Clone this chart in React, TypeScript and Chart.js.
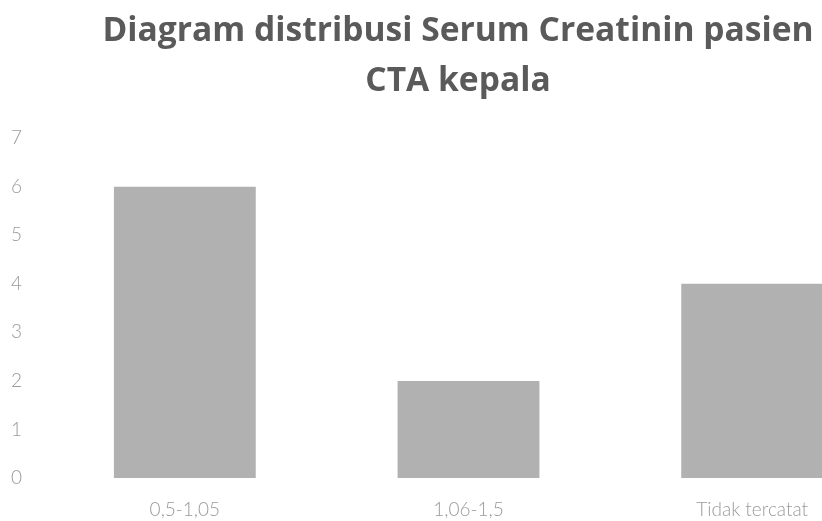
import React, { useEffect, useRef } from "react";
import { Chart, registerables } from "chart.js";

Chart.register(...registerables);

const titleLines = ["Diagram distribusi Serum Creatinin pasien", "CTA kepala"];
const categories = ["0,5-1,05", "1,06-1,5", "Tidak tercatat"];
const counts = [6, 2, 4];
const yMin = 0;
const yMax = 7;
const yStep = 1;

export default function App() {
  const ref = useRef<HTMLCanvasElement | null>(null);

  useEffect(() => {
    if (!ref.current) return;
    const chart = new Chart(ref.current, {
      type: "bar",
      data: {
        labels: categories,
        datasets: [
          {
            data: counts,
            backgroundColor: "#b1b1b1",
            borderWidth: 0,
            barPercentage: 0.5,
            categoryPercentage: 1,
          },
        ],
      },
      options: {
        responsive: false,
        animation: false,
        layout: { padding: { left: 22, right: 22, top: 0, bottom: 0 } },
        plugins: {
          legend: { display: false },
          tooltip: { enabled: false },
          title: {
            display: true,
            text: titleLines,
            color: "#5a5a5a",
            font: { family: "Open Sans", size: 33.6, weight: "bold", lineHeight: 1.49 },
            padding: { top: 6, bottom: 32 },
          },
        },
        scales: {
          x: {
            grid: { display: false, drawTicks: false },
            border: { display: false },
            ticks: {
              color: "#9a9a9a",
              font: { family: "Lato", size: 19, weight: "300" },
              padding: 20,
            },
            afterFit: (s: any) => {
              s.height = 43;
            },
          },
          y: {
            min: yMin,
            max: yMax,
            grid: { display: false, drawTicks: false },
            border: { display: false },
            ticks: {
              stepSize: yStep,
              color: "#9a9a9a",
              font: { family: "Lato", size: 19, weight: "300" },
              mirror: true,
              padding: -32,
            },
            afterFit: (s: any) => {
              s.width = 21;
            },
          },
        },
      },
    });
    return () => chart.destroy();
  }, []);

  return (
    <div
      style={{
        position: "fixed",
        left: 0,
        top: 0,
        width: 822,
        height: 521,
        overflow: "hidden",
        background: "#ffffff",
      }}
    >
      <canvas ref={ref} width={916} height={521} style={{ display: "block" }} />
    </div>
  );
}
